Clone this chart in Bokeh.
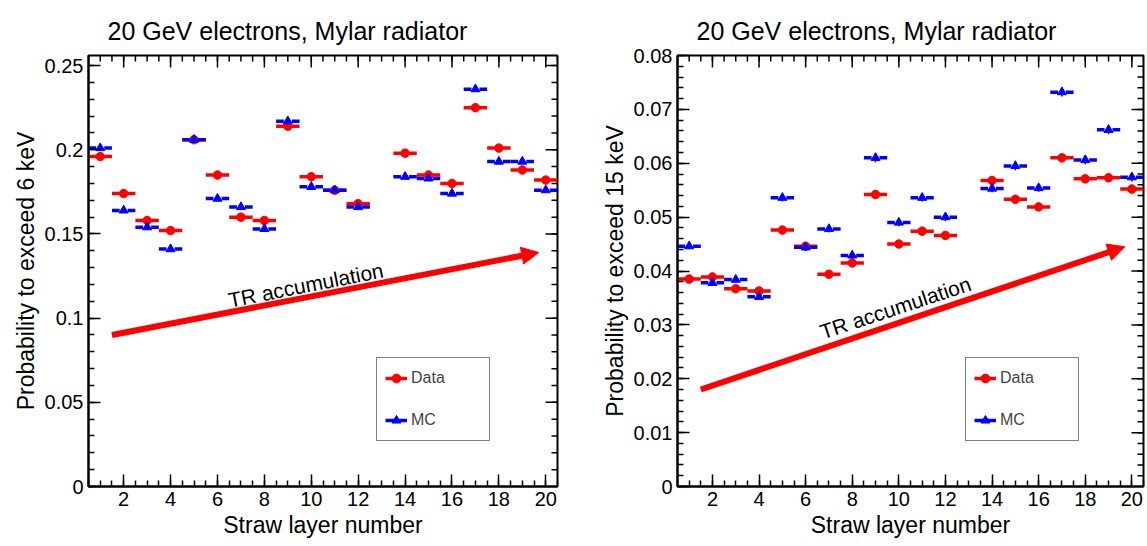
import numpy as np
from bokeh.plotting import figure
from bokeh.models import (SingleIntervalTicker, CustomJSTickFormatter, Range1d,
                          Legend, LegendItem, Arrow, NormalHead, Label, ColumnDataSource)
from bokeh.layouts import row
from bokeh.embed import file_html
from bokeh.resources import INLINE

# ---------------- data ----------------
layers = [1, 2, 3, 4, 5, 6, 7, 8, 9, 10, 11, 12, 14, 15, 16, 17, 18, 19, 20]

data_6kev = [0.196, 0.174, 0.158, 0.152, 0.206, 0.185, 0.160, 0.158, 0.214, 0.184,
             0.176, 0.168, 0.198, 0.185, 0.180, 0.225, 0.201, 0.188, 0.182]
data_6kev_err = [0.0010, 0.0010, 0.0010, 0.0010, 0.0011, 0.0010, 0.0010, 0.0010, 0.0011, 0.0010,
                 0.0010, 0.0010, 0.0010, 0.0010, 0.0010, 0.0011, 0.0010, 0.0010, 0.0010]
mc_6kev = [0.201, 0.164, 0.154, 0.141, 0.206, 0.171, 0.166, 0.153, 0.217, 0.178,
           0.176, 0.166, 0.184, 0.183, 0.174, 0.236, 0.193, 0.193, 0.176]
mc_6kev_err = [0.0010, 0.0010, 0.0010, 0.0010, 0.0011, 0.0010, 0.0010, 0.0010, 0.0011, 0.0010,
               0.0010, 0.0010, 0.0010, 0.0010, 0.0010, 0.0011, 0.0010, 0.0010, 0.0010]

data_15kev = [0.0385, 0.0389, 0.0367, 0.0363, 0.0476, 0.0446, 0.0394, 0.0415, 0.0542, 0.0450,
              0.0474, 0.0466, 0.0568, 0.0533, 0.0519, 0.0610, 0.0571, 0.0573, 0.0552]
data_15kev_err = [0.0006, 0.0006, 0.0005, 0.0005, 0.0007, 0.0007, 0.0006, 0.0006, 0.0007, 0.0007,
                  0.0007, 0.0007, 0.0008, 0.0007, 0.0007, 0.0007, 0.0008, 0.0008, 0.0008]
mc_15kev = [0.0446, 0.0378, 0.0384, 0.0352, 0.0536, 0.0444, 0.0478, 0.0429, 0.0610, 0.0490,
            0.0536, 0.0500, 0.0553, 0.0595, 0.0554, 0.0732, 0.0606, 0.0662, 0.0574]
mc_15kev_err = [0.0005, 0.0005, 0.0005, 0.0005, 0.0007, 0.0006, 0.0006, 0.0006, 0.0008, 0.0007,
                0.0007, 0.0007, 0.0007, 0.0008, 0.0007, 0.0008, 0.0008, 0.0008, 0.0008]

title_text = "20 GeV electrons, Mylar radiator"
x_label = "Straw layer number"
y_label_left = "Probability to exceed 6 keV"
y_label_right = "Probability to exceed 15 keV"
legend_labels = ["Data", "MC"]
annot_text = "TR accumulation"

# ---------------- style ----------------
FONT = "Liberation Sans"
RED = "#ff0000"
BLUE = "#0000ff"
GAP = 0.17  # half gap in x-error bar around marker (layer units)
XMIN, XMAX = 0.5, 20.5


def xbars(xs, ys):
    xs = np.asarray(xs, float)
    ys = np.asarray(ys, float)
    return dict(x0=np.concatenate([xs - 0.5, xs + GAP]),
                x1=np.concatenate([xs - GAP, xs + 0.5]),
                y=np.concatenate([ys, ys]))


def style_axis(ax):
    ax.major_tick_in = 12
    ax.major_tick_out = 0
    ax.minor_tick_in = 6
    ax.minor_tick_out = 0
    ax.major_tick_line_color = "black"
    ax.minor_tick_line_color = "black"
    ax.major_tick_line_width = 1.5
    ax.minor_tick_line_width = 1.5
    ax.axis_line_color = "black"
    ax.axis_line_width = 2
    ax.major_label_text_font = FONT
    ax.major_label_text_font_size = "20px"
    ax.major_label_text_color = "black"
    ax.major_label_standoff = 5
    ax.axis_label_text_font = FONT
    ax.axis_label_text_font_size = "23px"
    ax.axis_label_text_font_style = "normal"
    ax.axis_label_text_color = "black"


def mirror_ticks(p, xmin, xmax, ymin, ymax, xstep, ystep):
    # ticks on the top and right frame edges (half of each dash is clipped by the frame)
    xmaj = np.arange(0, xmax + 1e-9, xstep)
    xmaj = xmaj[(xmaj > xmin) & (xmaj < xmax)]
    xmin_t = np.arange(0, xmax + 1e-9, xstep / 4)
    xmin_t = xmin_t[(xmin_t >= xmin) & (xmin_t <= xmax)]
    ymaj = np.arange(0, ymax + 1e-12, ystep)
    ymaj = ymaj[(ymaj > ymin) & (ymaj < ymax)]
    ymin_t = np.arange(0, ymax + 1e-12, ystep / 5)
    ymin_t = ymin_t[(ymin_t > ymin) & (ymin_t < ymax)]
    kw = dict(marker="dash", line_color="black", line_width=1.5)
    p.scatter(xmaj, np.full(len(xmaj), ymax), size=24, angle=np.pi / 2, **kw)
    p.scatter(xmin_t, np.full(len(xmin_t), ymax), size=12, angle=np.pi / 2, **kw)
    p.scatter(np.full(len(ymaj), xmax), ymaj, size=24, **kw)
    p.scatter(np.full(len(ymin_t), xmax), ymin_t, size=12, **kw)


def make_panel(ylabel, dvals, derr, mvals, merr, ymax, ymajor,
               arrow_pts, text_pos, text_angle, frame_w, border_left, border_right):
    p = figure(frame_width=frame_w, frame_height=431,
               x_range=Range1d(XMIN, XMAX), y_range=Range1d(0, ymax),
               output_backend="svg", toolbar_location=None,
               min_border_left=border_left, min_border_right=border_right,
               min_border_top=55, min_border_bottom=54)
    p.grid.visible = False
    p.outline_line_color = "black"
    p.outline_line_width = 2
    p.background_fill_color = "white"
    p.border_fill_color = "white"

    fmt = CustomJSTickFormatter(code="return String(Number(tick.toFixed(4)));")
    p.xaxis.ticker = SingleIntervalTicker(interval=2, num_minor_ticks=4)
    p.yaxis.ticker = SingleIntervalTicker(interval=ymajor, num_minor_ticks=5)
    p.yaxis.formatter = fmt
    style_axis(p.xaxis[0])
    style_axis(p.yaxis[0])
    p.xaxis.axis_label = x_label
    p.yaxis.axis_label = ylabel
    p.xaxis.axis_label_standoff = 3
    p.yaxis.axis_label_standoff = 3

    mirror_ticks(p, XMIN, XMAX, 0, ymax, 2, ymajor)

    p.title.text = title_text
    p.title.align = "left"
    p.title.vertical_align = "top"
    p.title.offset = 19
    p.title.text_font = FONT
    p.title.text_font_size = "25px"
    p.title.text_font_style = "normal"
    p.title.text_color = "black"
    p.title.standoff = 18

    # Data
    dsrc = ColumnDataSource(xbars(layers, dvals))
    d_err = ColumnDataSource(dict(x=layers, y0=np.array(dvals) - np.array(derr),
                                  y1=np.array(dvals) + np.array(derr)))
    d_pts = ColumnDataSource(dict(x=layers, y=dvals))
    r_dseg = p.segment("x0", "y", "x1", "y", source=dsrc, line_color=RED, line_width=3.5)
    p.segment("x", "y0", "x", "y1", source=d_err, line_color=RED, line_width=1.5)
    r_dpt = p.scatter("x", "y", source=d_pts, marker="circle", size=8.5,
                      fill_color=RED, line_color=RED)

    # MC
    msrc = ColumnDataSource(xbars(layers, mvals))
    m_err = ColumnDataSource(dict(x=layers, y0=np.array(mvals) - np.array(merr),
                                  y1=np.array(mvals) + np.array(merr)))
    m_pts = ColumnDataSource(dict(x=layers, y=mvals))
    r_mseg = p.segment("x0", "y", "x1", "y", source=msrc, line_color=BLUE, line_width=3.5)
    p.segment("x", "y0", "x", "y1", source=m_err, line_color=BLUE, line_width=1.5)
    r_mpt = p.scatter("x", "y", source=m_pts, marker="triangle", size=9,
                      fill_color=BLUE, line_color=BLUE)

    # arrow + text
    (xs, ys), (xe, ye) = arrow_pts
    p.add_layout(Arrow(end=NormalHead(size=17, fill_color=RED, line_color=RED, line_width=1),
                       x_start=xs, y_start=ys, x_end=xe, y_end=ye,
                       line_color=RED, line_width=6))
    p.add_layout(Label(x=text_pos[0], y=text_pos[1], text=annot_text, angle=text_angle,
                       angle_units="deg", text_font=FONT, text_font_size="21px",
                       text_align="left", text_baseline="alphabetic", text_color="black"))

    legend = Legend(items=[LegendItem(label=legend_labels[0], renderers=[r_dseg, r_dpt]),
                           LegendItem(label=legend_labels[1], renderers=[r_mseg, r_mpt])],
                    location=(288, 45))
    legend.border_line_color = "black"
    legend.border_line_width = 1.5
    legend.background_fill_color = "white"
    legend.background_fill_alpha = 1
    legend.label_text_font = FONT
    legend.label_text_font_size = "16px"
    legend.glyph_width = 22
    legend.glyph_height = 24
    legend.label_height = 24
    legend.label_width = 70
    legend.label_standoff = 4
    legend.spacing = 18
    legend.padding = 8
    legend.margin = 0
    p.add_layout(legend)
    return p


p1 = make_panel(y_label_left, data_6kev, data_6kev_err, mc_6kev, mc_6kev_err, 0.256, 0.05,
                ((1.5, 0.090), (19.7, 0.139)), (6.47, 0.1106), 11.1,
                frame_w=469, border_left=88, border_right=18)
p2 = make_panel(y_label_right, data_15kev, data_15kev_err, mc_15kev, mc_15kev_err, 0.08, 0.01,
                ((1.5, 0.018), (19.7, 0.0445)), (6.64, 0.0286), 18.3,
                frame_w=466, border_left=102, border_right=2)

layout = row(p1, p2)
open("out.html", "w").write(file_html(layout, INLINE))
